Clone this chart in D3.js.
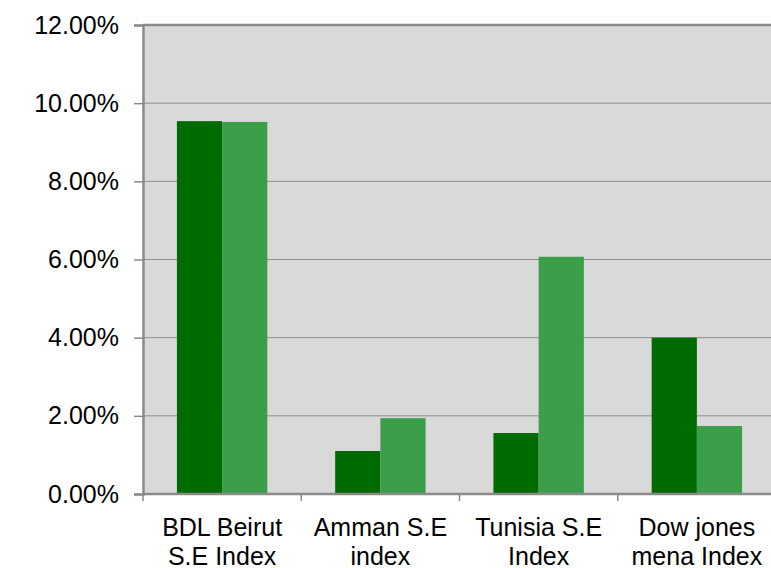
<!DOCTYPE html>
<html>
<head>
<meta charset="utf-8">
<script src="https://cdn.jsdelivr.net/npm/d3@7"></script>
<style>
  body { margin: 0; background: #fff; }
  text { font-family: "Liberation Sans", Arial, sans-serif; fill: #000; }
</style>
</head>
<body>
<script>
(function(){

	var w = 771;
	var h = 568;

	// categories (two lines each) and the two series
	var categories = ['BDL Beirut|S.E Index', 'Amman S.E|index', 'Tunisia S.E|Index', 'Dow jones|mena Index'];
	var series1 = [0.0954, 0.0110, 0.0156, 0.0400];
	var series2 = [0.0952, 0.0194, 0.0607, 0.0174];
	var yTicks = [0, 0.02, 0.04, 0.06, 0.08, 0.10, 0.12];
	var colors = ['#006b00', '#3a9f48'];

	var left = 143, right = 776, top = 25, bottom = 494;

	var svg = d3.select('body')
							.append('svg')
							.attr('width', w)
							.attr('height', h);

	var x = d3.scaleBand()
		.domain(categories)
		.range([left, right]);

	var y = d3.scaleLinear()
		.domain([0, 0.12])
		.range([bottom, top]);

	// plot background
	svg.append('rect')
		.attr('x', left)
		.attr('y', top)
		.attr('width', right - left)
		.attr('height', bottom - top)
		.attr('fill', '#d9d9d9');

	// gridlines
	svg.selectAll('line.grid')
		.data(yTicks.slice(1, -1))
		.enter()
		.append('line')
		.attr('class', 'grid')
		.attr('x1', left)
		.attr('x2', right)
		.attr('y1', function(d){ return y(d); })
		.attr('y2', function(d){ return y(d); })
		.attr('stroke', '#8c8c8c')
		.attr('stroke-width', 1);

	// bars, gap width 150%
	var barW = x.bandwidth() / 3.5;
	var data = [];
	categories.forEach(function(c, i){
		data.push({cat: c, s: 0, v: series1[i]});
		data.push({cat: c, s: 1, v: series2[i]});
	});

	svg.selectAll('rect.bar')
		.data(data)
		.enter()
		.append('rect')
		.attr('class', 'bar')
		.attr('x', function(d){
			return x(d.cat) + barW * 0.75 + d.s * barW;
		})
		.attr('y', function(d){ return y(d.v); })
		.attr('width', barW)
		.attr('height', function(d){ return bottom - y(d.v); })
		.attr('fill', function(d){ return colors[d.s]; });

	// top border (12% line)
	svg.append('line')
		.attr('x1', left).attr('x2', right)
		.attr('y1', y(0.12)).attr('y2', y(0.12))
		.attr('stroke', '#8a8a8a')
		.attr('stroke-width', 2.5);

	// y axis
	var yAxis = d3.axisLeft(y)
		.tickValues(yTicks)
		.tickFormat(d3.format('.2%'))
		.tickSize(9)
		.tickPadding(15);

	var gy = svg.append('g')
		.attr('transform', 'translate(' + left + ',0)')
		.call(yAxis);
	gy.select('.domain').attr('stroke', '#8a8a8a').attr('stroke-width', 2.5);
	gy.selectAll('.tick line').attr('stroke', '#8a8a8a').attr('stroke-width', 1.5);
	gy.selectAll('.tick text')
		.attr('font-size', 25)
		.attr('font-family', '"Liberation Sans", Arial, sans-serif')
		.attr('fill', '#000');

	// x axis
	var gx = svg.append('g')
		.attr('transform', 'translate(0,' + bottom + ')');

	gx.append('line')
		.attr('x1', left).attr('x2', right)
		.attr('y1', 0).attr('y2', 0)
		.attr('stroke', '#8a8a8a')
		.attr('stroke-width', 2.5);

	gx.selectAll('line.xtick')
		.data(categories)
		.enter()
		.append('line')
		.attr('class', 'xtick')
		.attr('x1', function(d){ return x(d); })
		.attr('x2', function(d){ return x(d); })
		.attr('y1', 0)
		.attr('y2', 7)
		.attr('stroke', '#8a8a8a')
		.attr('stroke-width', 1.5);

	var labels = gx.selectAll('text.cat')
		.data(categories)
		.enter()
		.append('text')
		.attr('class', 'cat')
		.attr('text-anchor', 'middle')
		.attr('font-size', 25)
		.attr('x', function(d){ return x(d) + x.bandwidth() / 2; });

	labels.selectAll('tspan')
		.data(function(d){ return d.split('|'); })
		.enter()
		.append('tspan')
		.attr('x', function(){ return d3.select(this.parentNode).attr('x'); })
		.attr('y', function(d, i){ return 42 + i * 29; })
		.text(function(d){ return d; });

})();
</script>
</body>
</html>
